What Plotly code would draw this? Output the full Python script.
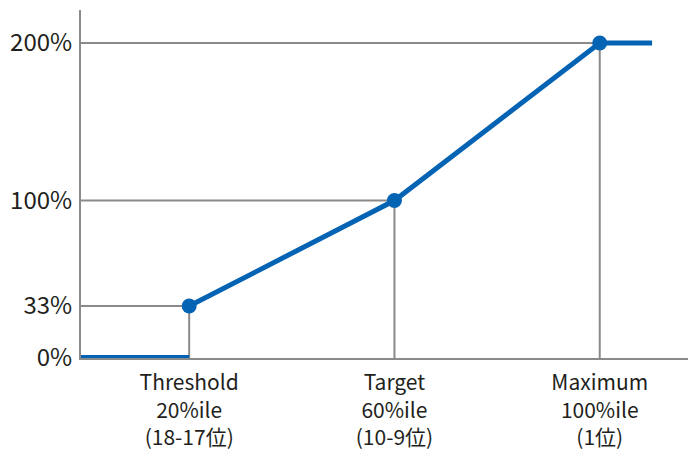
import plotly.graph_objects as go

category_lines = [
    ["Threshold", "20%ile", "(18-17位)"],
    ["Target", "60%ile", "(10-9位)"],
    ["Maximum", "100%ile", "(1位)"],
]
cat_pos = [0, 1, 2]
payout = [33, 100, 200]
ytick_vals = [0, 33, 100, 200]
ytick_text = ["0%", "33%", "100%", "200%"]
line_end_x = 2.255
x_min, x_max = -0.527, 2.43

blue = "#0563b4"
gray = "#8a8a8a"
font = "Noto Sans CJK JP"
text_color = "#231f20"

fig = go.Figure()

# gray guide lines
for x, y in zip(cat_pos, payout):
    fig.add_trace(go.Scatter(x=[x_min, x, x], y=[y, y, 0], mode="lines",
                             line=dict(color=gray, width=2), hoverinfo="skip", showlegend=False))

# zero segment
fig.add_trace(go.Scatter(x=[x_min, cat_pos[0]], y=[0, 0], mode="lines",
                         line=dict(color=blue, width=6), showlegend=False))
# main line
fig.add_trace(go.Scatter(x=cat_pos + [line_end_x], y=payout + [payout[-1]], mode="lines",
                         line=dict(color=blue, width=5), showlegend=False))
fig.add_trace(go.Scatter(x=cat_pos, y=payout, mode="markers",
                         marker=dict(color=blue, size=15), showlegend=False))

fig.update_layout(
    width=688, height=450,
    margin=dict(l=81, r=0, t=10, b=92),
    paper_bgcolor="white", plot_bgcolor="white",
    font=dict(family=font, size=24, color=text_color),
)
fig.update_xaxes(range=[x_min, x_max], tickvals=cat_pos,
                 ticktext=["<br>".join(l) for l in category_lines],
                 tickfont=dict(size=21), ticklabelstandoff=5,
                 showgrid=False, zeroline=False, showline=True, linecolor=gray, linewidth=2,
                 ticks="", layer="below traces")
fig.update_yaxes(range=[0, 221], tickvals=ytick_vals, ticktext=ytick_text,
                 showgrid=False, zeroline=False, showline=True, linecolor=gray, linewidth=2,
                 ticks="", ticklabelstandoff=2, layer="below traces")

fig.write_html("out.html")
